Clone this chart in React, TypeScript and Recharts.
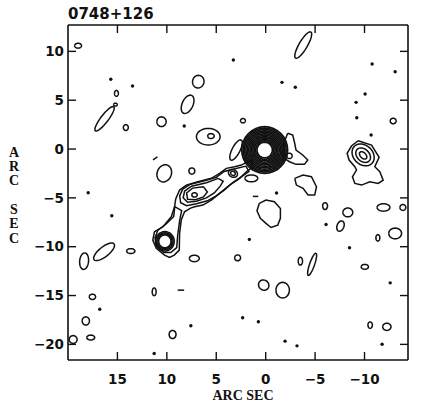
import React from "react";
import { ScatterChart, Scatter, XAxis, YAxis } from "recharts";

const title = "0748+126";
const axisTitle = "ARC SEC";
const xTicks = [15, 10, 5, 0, -5, -10];
const yTicks = [10, 5, 0, -5, -10, -15, -20];
const xRange = [-14.4, 20];
const yRange = [-21.6, 12.7];

// core and southern knot: centre, then ring radii (arcsec)
const coreCentre = [0.1, -0.1];
const coreRadii = [0.78, 0.92, 1.06, 1.2, 1.34, 1.48, 1.62, 1.76, 1.9, 2.04, 2.18, 2.32];
const knotCentre = [10.2, -9.45];
const knotRadii = [0.62, 0.72, 0.83, 0.95];

// oval contours: [x, y, semi-axis a, semi-axis b, angle of a (deg)]
const loops = [
  [18.98, 10.58, 0.35, 0.25, 0],
  [15.1, 5.7, 0.2, 0.3, 0],
  [16.3, 3.1, 1.55, 0.38, 127],
  [15.2, 4.55, 0.18, 0.15, 0],
  [14.15, 2.2, 0.25, 0.3, 0],
  [10.54, 2.8, 0.47, 0.5, 0],
  [6.82, 6.9, 0.65, 0.58, 100],
  [7.9, 4.58, 1.0, 0.55, 114],
  [5.81, 1.26, 1.2, 0.85, 0],
  [5.54, 1.33, 0.33, 0.25, 0],
  [10.26, -2.49, 0.9, 0.72, 110],
  [7.47, -2.25, 0.3, 0.32, 0],
  [-3.8, 10.65, 1.55, 0.42, 120],
  [-12.9, 2.87, 0.3, 0.28, 0],
  [2.3, 2.9, 0.25, 0.22, 0],
  [3.0, -0.1, 1.15, 0.4, 117],
  [1.45, -3.0, 0.65, 0.35, 0],
  [-2.4, -0.7, 0.28, 0.28, 0],
  [-9.86, -0.6, 1.25, 0.98, 45],
  [-9.86, -0.63, 0.85, 0.62, 45],
  [-9.86, -0.65, 0.45, 0.28, 45],
  [3.31, -2.49, 0.48, 0.38, 30],
  [3.31, -2.49, 0.25, 0.2, 30],
  [7.2, -4.7, 0.28, 0.22, 0],
  [18.37, -11.48, 0.85, 0.45, 95],
  [16.35, -10.52, 1.3, 0.5, 141],
  [13.65, -10.45, 0.42, 0.25, 0],
  [7.22, -11.2, 0.5, 0.33, 0],
  [2.84, -11.14, 0.3, 0.3, 0],
  [17.53, -15.13, 0.32, 0.27, 0],
  [18.2, -17.6, 0.37, 0.42, 0],
  [19.48, -19.5, 0.4, 0.4, 0],
  [17.7, -19.3, 0.4, 0.25, 0],
  [11.28, -14.62, 0.2, 0.4, 0],
  [9.42, -18.99, 0.35, 0.42, 0],
  [0.2, -13.93, 0.55, 0.5, 45],
  [-1.72, -14.45, 0.68, 0.8, 0],
  [-6.01, -5.84, 0.25, 0.35, 0],
  [-8.31, -6.49, 0.5, 0.45, 0],
  [-7.57, -7.89, 0.55, 0.35, 110],
  [-11.92, -5.98, 0.65, 0.38, 0],
  [-13.88, -5.98, 0.3, 0.3, 0],
  [-11.35, -9.09, 0.2, 0.33, 0],
  [-13.1, -8.64, 0.65, 0.55, 0],
  [-3.51, -11.48, 0.22, 0.4, 0],
  [-4.7, -11.8, 1.2, 0.25, 109],
  [-10.03, -12.06, 0.37, 0.25, 0],
  [-10.57, -18.03, 0.23, 0.33, 0],
  [-12.26, -18.2, 0.42, 0.37, 0],
];

const jetOuter = [
  [1.3, -1.15], [2.13, -1.47], [2.46, -1.64], [3.14, -1.81], [3.98, -1.98], [4.66, -2.49],
  [5.5, -3.0], [6.86, -3.35], [8.03, -3.69], [8.71, -4.2], [9.1, -5.1], [9.22, -5.91],
  [9.55, -6.94], [10.4, -7.96], [11.25, -8.47], [11.42, -9.32], [11.07, -10.17], [10.23, -10.86],
  [9.73, -11.1], [9.25, -10.86], [8.74, -10.35], [8.71, -8.64], [8.54, -7.27], [8.21, -6.42],
  [7.6, -6.05], [7.19, -5.91], [6.35, -5.74], [5.5, -5.23], [4.66, -4.54], [3.65, -3.69],
  [2.63, -3.0], [1.95, -2.33], [1.4, -1.9],
];
const jetNeck = [
  [9.2, -5.9], [9.3, -6.9], [10.1, -7.7], [10.9, -8.3], [11.2, -9.1], [11.0, -10.0],
  [10.3, -10.6], [9.6, -10.6], [9.0, -10.1], [8.9, -8.8], [8.7, -7.3], [8.5, -6.3],
];
const jetLevel2 = [
  [2.0, -1.75], [3.2, -2.05], [4.2, -2.3], [5.0, -2.9], [6.2, -3.25], [7.6, -3.6], [8.4, -4.1],
  [8.7, -4.8], [8.6, -5.5], [8.0, -5.8], [7.0, -5.6], [5.9, -5.3], [5.0, -4.8], [4.2, -4.2],
  [3.3, -3.4], [2.4, -2.8], [1.7, -2.3],
];
const jetLevel3 = [
  [4.8, -3.0], [6.0, -3.45], [7.5, -3.8], [8.2, -4.3], [8.35, -5.0], [7.9, -5.45], [7.0, -5.35],
  [6.0, -5.0], [5.2, -4.5], [4.6, -3.8], [4.3, -3.3],
];
const jetLevel4 = [
  [6.3, -3.85], [7.4, -4.0], [8.0, -4.5], [7.9, -5.15], [7.1, -5.2], [6.3, -4.9], [5.9, -4.4],
];
const westSource = [
  [-9.35, 0.85], [-10.71, 0.41], [-11.48, -0.85], [-11.04, -1.81], [-11.55, -2.33], [-11.89, -3.18],
  [-11.38, -3.52], [-10.54, -3.35], [-9.69, -3.69], [-9.02, -3.52], [-8.78, -2.84], [-9.19, -2.15],
  [-9.02, -1.81], [-8.44, -1.13], [-8.24, -0.44], [-8.68, 0.31],
];
const westOfCore = [
  [-2.23, 1.61], [-2.74, 1.43], [-2.9, 0.75], [-3.07, -0.1], [-3.75, -0.61], [-4.26, -1.13],
  [-3.92, -1.57], [-3.07, -1.57], [-2.4, -1.3], [-1.89, -0.95], [-1.72, -0.28], [-1.89, 0.75],
];
const southWestBlob = [
  [-2.94, -3.0], [-3.78, -2.66], [-4.63, -2.84], [-5.14, -3.86], [-4.96, -4.71], [-4.29, -4.71],
  [-3.78, -4.03], [-3.11, -3.69],
];
const southBlob = [
  [0.64, -5.56], [-0.03, -5.23], [-0.88, -5.4], [-1.49, -6.08], [-1.49, -7.1], [-1.22, -7.79],
  [-0.54, -8.03], [-0.03, -7.61], [0.54, -7.1], [0.88, -6.32],
];

const dots = [
  [15.67, 7.14], [13.47, 6.45], [8.24, 2.36], [3.27, 9.12], [-1.65, 6.83], [-3.0, 6.32],
  [-10.77, 8.71], [-13.1, 7.92], [-10.06, 5.64], [-9.15, 4.78], [-9.22, 3.2], [-10.67, 1.43],
  [-1.1, -4.5], [17.96, -4.48], [15.57, -6.83], [16.79, -16.4], [7.57, -18.1], [11.28, -20.93],
  [1.65, -9.25], [-6.11, -7.72], [-8.48, -10.11], [-12.6, -13.7], [2.33, -17.28], [0.74, -17.69],
  [-1.96, -19.67], [-3.17, -20.15], [-11.78, -19.98],
];
const dashes = [
  [11.4, -1.1, 10.95, -0.8],
  [1.3, -4.85, 0.75, -4.85],
  [8.9, -14.45, 8.25, -14.45],
];

const ring = ([cx, cy, a, b, ang]: number[], n = 32) => {
  const th = (ang * Math.PI) / 180;
  const pts = [];
  for (let i = 0; i <= n; i++) {
    const t = (2 * Math.PI * i) / n;
    pts.push({
      x: cx + a * Math.cos(t) * Math.cos(th) - b * Math.sin(t) * Math.sin(th),
      y: cy + a * Math.cos(t) * Math.sin(th) + b * Math.sin(t) * Math.cos(th),
    });
  }
  return pts;
};
const closed = (p: number[][]) => [...p, p[0]].map(([x, y]) => ({ x, y }));

const coreRings = coreRadii.map((r) => ring([coreCentre[0], coreCentre[1], r, r * 1.03, 0]));
const contours = [
  ...knotRadii.map((r) => ring([knotCentre[0], knotCentre[1], r, r * 1.05, 0])),
  ...loops.map((l) => ring(l)),
  ...[jetOuter, jetNeck, jetLevel2, jetLevel3, jetLevel4, westSource, westOfCore, southWestBlob, southBlob].map(closed),
  ...dashes.map(([x1, y1, x2, y2]) => [{ x: x1, y: y1 }, { x: x2, y: y2 }]),
];
const dotData = dots.map(([x, y]) => ({ x, y }));

const INK = "#111";
const tickFont = { fontSize: 13.5, fontWeight: 700, fontFamily: "DejaVu Sans", fill: INK };
const fmt = (v: number) => (v < 0 ? `\u2212${-v}` : `${v}`);
const NoMarker = () => <g />;
const Dot = (p: any) => <circle cx={p.cx} cy={p.cy} r={1.7} fill={INK} />;

const SideTitle = (p: any) => {
  const vb = p.viewBox;
  const cx = vb.x + 6;
  const mid = vb.y + vb.height / 2 + 2.5;
  const chars = axisTitle.split("");
  return (
    <text textAnchor="middle" fontFamily="Liberation Serif" fontWeight={700} fontSize={14} fill={INK}>
      {chars.map((c, i) => (
        <tspan key={i} x={cx} y={mid + (i - (chars.length - 1) / 2) * 14.3 + 4.7}>
          {c}
        </tspan>
      ))}
    </text>
  );
};
const BottomTitle = (p: any) => {
  const vb = p.viewBox;
  return (
    <text x={vb.x + vb.width / 2 + 5} y={vb.y + 40} textAnchor="middle" fontFamily="Liberation Serif" fontWeight={700} fontSize={14} fill={INK}>
      {axisTitle}
    </text>
  );
};
const TopTitle = (p: any) => {
  const vb = p.viewBox;
  return (
    <text x={vb.x} y={vb.y - 5} fontFamily="DejaVu Sans" fontWeight={700} fontSize={15} fill={INK}>
      {title}
    </text>
  );
};

export default function App() {
  const axisLine = { stroke: INK, strokeWidth: 1.6 };
  const tickLine = { stroke: INK, strokeWidth: 1.4 };
  return (
    <div style={{ position: "absolute", left: 0, top: 0, width: 423, height: 408, background: "#fff" }}>
      <ScatterChart width={423} height={408} margin={{ top: 24, right: 14, bottom: 18, left: 8 }}>
        <XAxis
          type="number"
          dataKey="x"
          domain={xRange}
          allowDataOverflow
          reversed
          ticks={xTicks}
          interval={0}
          height={30}
          tickSize={-8}
          tickMargin={22}
          tickFormatter={fmt}
          tick={tickFont}
          axisLine={axisLine}
          tickLine={tickLine}
          label={BottomTitle}
        />
        <XAxis
          xAxisId="top"
          orientation="top"
          type="number"
          dataKey="x"
          domain={xRange}
          allowDataOverflow
          reversed
          ticks={xTicks}
          interval={0}
          height={1}
          tickSize={-8}
          tickFormatter={() => ""}
          axisLine={axisLine}
          tickLine={tickLine}
          label={TopTitle}
        />
        <YAxis
          type="number"
          dataKey="y"
          domain={yRange}
          allowDataOverflow
          ticks={yTicks}
          interval={0}
          width={60}
          tickSize={-8}
          tickMargin={12}
          tickFormatter={fmt}
          tick={tickFont}
          axisLine={axisLine}
          tickLine={tickLine}
          label={SideTitle}
        />
        <YAxis
          yAxisId="right"
          orientation="right"
          type="number"
          dataKey="y"
          domain={yRange}
          allowDataOverflow
          ticks={yTicks}
          interval={0}
          width={1}
          tickSize={-8}
          tickFormatter={() => ""}
          axisLine={axisLine}
          tickLine={tickLine}
        />
        {/* binds the frame axes on top and right */}
        <Scatter xAxisId="top" yAxisId="right" data={dotData} fill="none" shape={NoMarker} isAnimationActive={false} />
        {coreRings.map((pts, i) => (
          <Scatter
            key={`core${i}`}
            data={pts}
            fill={INK}
            line={{ stroke: INK, strokeWidth: 1.7 }}
            lineType="joint"
            shape={NoMarker}
            isAnimationActive={false}
          />
        ))}
        {contours.map((pts, i) => (
          <Scatter
            key={i}
            data={pts}
            fill={INK}
            line={{ stroke: INK, strokeWidth: 1.5 }}
            lineType="joint"
            shape={NoMarker}
            isAnimationActive={false}
          />
        ))}
        <Scatter data={dotData} fill={INK} shape={Dot} isAnimationActive={false} />
      </ScatterChart>
    </div>
  );
}
